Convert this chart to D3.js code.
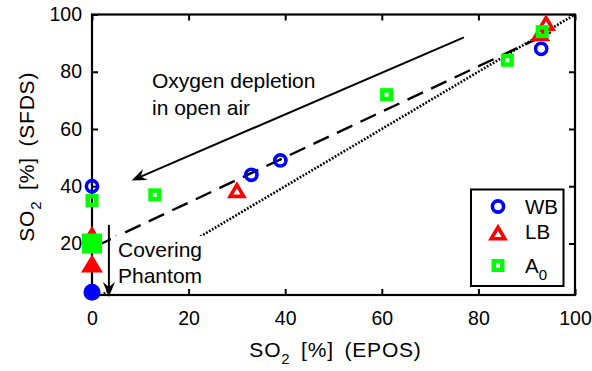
<!DOCTYPE html>
<html>
<head>
<meta charset="utf-8">
<script src="https://cdn.jsdelivr.net/npm/d3@7"></script>
<style>
  body { margin: 0; background: #fff; }
  text { font-family: "Liberation Sans", Arial, Helvetica, sans-serif; fill: #000; }
</style>
</head>
<body>
<svg id="chart" width="592" height="371"></svg>
<script>
// values: SO2 [%] by EPOS (x) and SFDS (y)
const wbEPOS = [0, 33, 39, 93];
const wbSFDS = [40, 44, 49, 88];
const lbEPOS = [30, 94, 92.8];
const lbSFDS = [39, 97.4, 93.8];
const a0EPOS = [0, 13, 61, 86, 93.2];
const a0SFDS = [35, 37, 72, 84, 94];

// covering phantom measurements (filled markers)
const coverWB = [[0, 3]];
const coverLB = [[0, 23], [0, 13]];
const coverA0 = [[0, 20]];

// fit line (dashed) and identity line (dotted)
const fitEPOS = [2, 95];
const fitSFDS = [20, 93.8];
const idEPOS = [0, 100];
const idSFDS = [0, 100];

const xTicks = [0, 20, 40, 60, 80, 100];
const yTicks = [20, 40, 60, 80, 100];

var zip = (xs, ys) => xs.map((x, i) => [x, ys[i]]);

const W = 592, H = 371;
const M = {left: 92, right: 17, top: 14.5, bottom: 76};

var svg = d3.select("#chart");

var x = d3.scaleLinear().domain([0, 100]).range([M.left, W - M.right]);
var y = d3.scaleLinear().domain([2, 100]).range([H - M.bottom, M.top]);

svg.append("clipPath").attr("id", "plotclip")
  .append("rect")
  .attr("x", x(0)).attr("y", y(100))
  .attr("width", x(100) - x(0)).attr("height", y(2) - y(100));

var plot = svg.append("g").attr("clip-path", "url(#plotclip)");
var line = d3.line().x(d => x(d[0])).y(d => y(d[1]));

// identity line
plot.append("path")
  .datum(zip(idEPOS, idSFDS))
  .attr("d", line)
  .attr("fill", "none").attr("stroke", "#000")
  .attr("stroke-width", 2.6).attr("stroke-dasharray", "1.8,1.6");

// fit line
plot.append("path")
  .datum(zip(fitEPOS, fitSFDS))
  .attr("d", line)
  .attr("fill", "none").attr("stroke", "#000")
  .attr("stroke-width", 2.4).attr("stroke-dasharray", "17,9");

// annotations
var annot = svg.append("g");

var coverText = annot.append("text")
  .attr("font-size", 21);
coverText.append("tspan").attr("x", 118).attr("y", 257).text("Covering");
coverText.append("tspan").attr("x", 118).attr("y", 283).text("Phantom");
var bb = coverText.node().getBBox();
annot.insert("rect", "text")
  .attr("x", bb.x - 7).attr("y", bb.y - 2)
  .attr("width", bb.width + 10).attr("height", bb.height + 10)
  .attr("fill", "#fff");

var oxyText = annot.append("text").attr("font-size", 21);
oxyText.append("tspan").attr("x", 152).attr("y", 88).text("Oxygen depletion");
oxyText.append("tspan").attr("x", 152).attr("y", 115).text("in open air");

// arrows, [from, to] in data units
const arrows = [
  [[77, 92], [8.2, 42]],
  [[3.5, 26.5], [3.5, 1.3]]
];

arrows.forEach(a => {
  var x0 = x(a[0][0]), y0 = y(a[0][1]), x1 = x(a[1][0]), y1 = y(a[1][1]);
  var ang = Math.atan2(y1 - y0, x1 - x0);
  var L = 15, hw = 6, notch = 10;
  var ux = Math.cos(ang), uy = Math.sin(ang);
  annot.append("line")
    .attr("x1", x0).attr("y1", y0)
    .attr("x2", x1 - ux * notch).attr("y2", y1 - uy * notch)
    .attr("stroke", "#000").attr("stroke-width", 2);
  var pts = [
    [x1, y1],
    [x1 - ux * L - uy * hw, y1 - uy * L + ux * hw],
    [x1 - ux * notch, y1 - uy * notch],
    [x1 - ux * L + uy * hw, y1 - uy * L - ux * hw]
  ];
  annot.append("path")
    .attr("d", "M" + pts.map(p => p.join(",")).join("L") + "Z")
    .attr("fill", "#000");
});

// axes frame and ticks (inward on all sides)
var fmt = d3.format("d");
svg.append("g")
  .attr("transform", `translate(0,${y(2)})`)
  .call(d3.axisBottom(x).tickValues(xTicks).tickFormat(fmt).tickSizeInner(-6).tickSizeOuter(0).tickPadding(16))
  .call(g => g.selectAll("text").attr("font-size", 19.5).attr("fill", "#000"));
svg.append("g")
  .attr("transform", `translate(${x(0)},0)`)
  .call(d3.axisLeft(y).tickValues(yTicks).tickFormat(fmt).tickSizeInner(-6).tickSizeOuter(0).tickPadding(10))
  .call(g => g.selectAll("text").attr("font-size", 19.5).attr("fill", "#000"));
svg.append("g")
  .attr("transform", `translate(0,${y(100)})`)
  .call(d3.axisTop(x).tickValues(xTicks).tickFormat("").tickSizeInner(-6).tickSizeOuter(0));
svg.append("g")
  .attr("transform", `translate(${x(100)},0)`)
  .call(d3.axisRight(y).tickValues(yTicks).tickFormat("").tickSizeInner(-6).tickSizeOuter(0));
svg.selectAll(".tick line").attr("stroke", "#000").attr("stroke-width", 2);
svg.selectAll(".domain").remove();
svg.append("rect")
  .attr("x", x(0)).attr("y", y(100))
  .attr("width", x(100) - x(0)).attr("height", y(2) - y(100))
  .attr("fill", "none").attr("stroke", "#000").attr("stroke-width", 2.2);

// marker shapes
var triPath = (hw, h) => `M0,${-h / 2}L${hw},${h / 2}L${-hw},${h / 2}Z`;

var marks = svg.append("g");

var drawWB = (g, pts) => g.selectAll(null).data(pts).enter().append("circle")
  .attr("cx", d => x(d[0])).attr("cy", d => y(d[1])).attr("r", 5.6)
  .attr("fill", "none").attr("stroke", "#0000ff").attr("stroke-width", 3.6);
var drawLB = (g, pts) => g.selectAll(null).data(pts).enter().append("path")
  .attr("transform", d => `translate(${x(d[0])},${y(d[1]) + 1.5})`)
  .attr("d", triPath(6.8, 11.5))
  .attr("fill", "none").attr("stroke", "#ff0000").attr("stroke-width", 3.6)
  .attr("stroke-linejoin", "miter");
var drawA0 = (g, pts) => g.selectAll(null).data(pts).enter().append("rect")
  .attr("x", d => x(d[0]) - 4.25).attr("y", d => y(d[1]) - 4.25)
  .attr("width", 8.5).attr("height", 8.5)
  .attr("fill", "none").attr("stroke", "#00ff00").attr("stroke-width", 4.5);

// covering phantom (filled)
marks.selectAll(null).data(coverLB).enter().append("path")
  .attr("transform", d => `translate(${x(d[0])},${y(d[1])})`)
  .attr("d", triPath(11, 18)).attr("fill", "#ff0000");
marks.selectAll(null).data(coverA0).enter().append("rect")
  .attr("x", d => x(d[0]) - 10).attr("y", d => y(d[1]) - 10)
  .attr("width", 20).attr("height", 20).attr("fill", "#00ff00");
marks.selectAll(null).data(coverWB).enter().append("circle")
  .attr("cx", d => x(d[0])).attr("cy", d => y(d[1])).attr("r", 8.5)
  .attr("fill", "#0000ff");

drawWB(marks.append("g"), zip(wbEPOS, wbSFDS));
drawLB(marks.append("g"), zip(lbEPOS, lbSFDS));
drawA0(marks.append("g"), zip(a0EPOS, a0SFDS));

// axis labels
var axisLabel = (sel, rest) => {
  sel.attr("text-anchor", "middle").attr("font-size", 21)
    .attr("letter-spacing", 0.8).attr("word-spacing", 4);
  sel.append("tspan").text("SO");
  sel.append("tspan").attr("font-size", 15).attr("dy", 7).text("2");
  sel.append("tspan").attr("dy", -7).text(" " + rest);
};
svg.append("text").attr("x", (x(0) + x(100)) / 2 + 2).attr("y", 357)
  .call(axisLabel, "[%] (EPOS)");
svg.append("text")
  .attr("transform", `translate(34,${(y(2) + y(100)) / 2 + 2}) rotate(-90)`)
  .call(axisLabel, "[%] (SFDS)");

// legend
var leg = svg.append("g").attr("transform", "translate(471,189.5)");
leg.append("rect").attr("width", 92.5).attr("height", 96.5)
  .attr("fill", "#fff").attr("stroke", "#000").attr("stroke-width", 2);
const legNames = ["WB", "LB", "A"];
const legY = [17, 42, 76];
leg.append("circle").attr("cx", 27).attr("cy", legY[0]).attr("r", 5.6)
  .attr("fill", "none").attr("stroke", "#0000ff").attr("stroke-width", 3.6);
leg.append("path").attr("transform", `translate(27,${legY[1] + 1.5})`)
  .attr("d", triPath(6.8, 11.5))
  .attr("fill", "none").attr("stroke", "#ff0000").attr("stroke-width", 3.6);
leg.append("rect").attr("x", 27 - 4.25).attr("y", legY[2] - 4.25)
  .attr("width", 8.5).attr("height", 8.5)
  .attr("fill", "none").attr("stroke", "#00ff00").attr("stroke-width", 4.5);
legNames.forEach((n, i) => {
  var t = leg.append("text").attr("x", 54).attr("y", legY[i] + 7).attr("font-size", 20.5).text(n);
  if (n == "A") t.append("tspan").attr("font-size", 15).attr("dy", 7).text("0");
});
</script>
</body>
</html>
